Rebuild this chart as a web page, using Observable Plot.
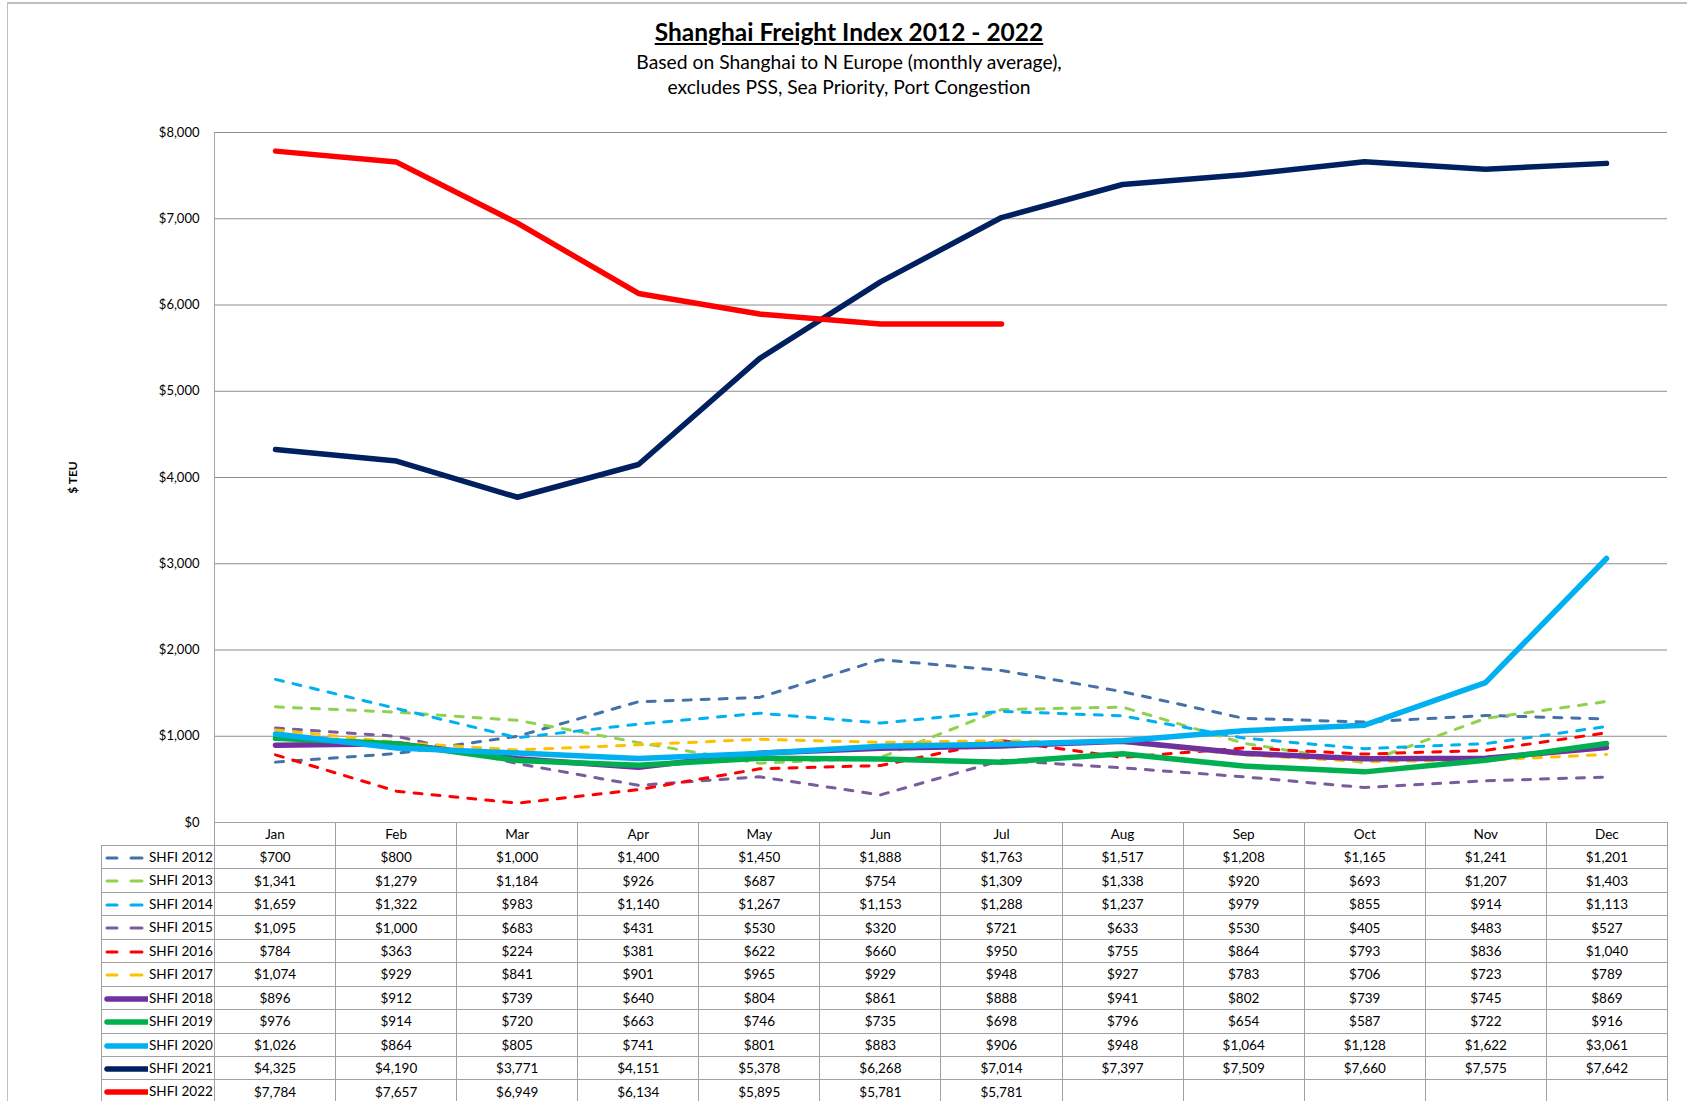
<!DOCTYPE html>
<html>
<head>
<meta charset="utf-8">
<script src="https://cdn.jsdelivr.net/npm/d3@7"></script>
<script src="https://cdn.jsdelivr.net/npm/@observablehq/plot@0.6"></script>
<style>
  html, body { margin: 0; padding: 0; background: #fff; }
  #chart { position: relative; width: 1687px; height: 1101px; overflow: hidden; background: #fff; font-family: Lato, "Open Sans", sans-serif; color: #000; }
  #border-top { position: absolute; left: 7px; top: 2px; width: 1680px; height: 2px; background: #bfbfbf; }
  #border-left { position: absolute; left: 7px; top: 2px; width: 1px; height: 1100px; background: #c0c0c0; }
  #title { position: absolute; left: 0; top: 17px; width: 1698px; text-align: center; font-weight: bold; font-size: 24.5px; line-height: 30px; text-decoration: underline; }
  #subtitle { position: absolute; left: 0; top: 49px; width: 1698px; text-align: center; font-size: 19.3px; line-height: 25px; }
  #plot { position: absolute; left: 0; top: 100px; }
  #plot svg g[aria-label="y-axis label"] text { font-weight: bold; font-size: 12px; }
  #tbl { position: absolute; left: 101px; top: 822px; border-collapse: collapse; table-layout: fixed; font-size: 13.5px; }
  #tbl td, #tbl th { border: 1px solid #a0a0a0; padding: 0; text-align: center; font-weight: normal; white-space: nowrap; overflow: hidden; }
  #tbl tr.head th { height: 22px; }
  #tbl tr.head th.corner { border: none; }
  #tbl tr.data td { height: 22.45px; }
  #tbl td.leg { text-align: left; }
  #tbl td.leg svg { vertical-align: middle; margin-right: 1px; }
  #tbl td.leg span { vertical-align: middle; position: relative; top: -1px; }
</style>
</head>
<body>
<div id="chart">
  <div id="border-top"></div>
  <div id="border-left"></div>
  <div id="title"></div>
  <div id="subtitle"></div>
  <div id="plot"></div>
  <table id="tbl"></table>
</div>
<script>
// ---- Data ----
const titleText = "Shanghai Freight Index 2012 - 2022";
const subtitleLines = ["Based on Shanghai to N Europe (monthly average),", "excludes PSS, Sea Priority, Port Congestion"];
const yLabel = "$ TEU";
const months = ["Jan", "Feb", "Mar", "Apr", "May", "Jun", "Jul", "Aug", "Sep", "Oct", "Nov", "Dec"];
const seriesNames = ["SHFI 2012", "SHFI 2013", "SHFI 2014", "SHFI 2015", "SHFI 2016", "SHFI 2017", "SHFI 2018", "SHFI 2019", "SHFI 2020", "SHFI 2021", "SHFI 2022"];
const shfi2012 = [700, 800, 1000, 1400, 1450, 1888, 1763, 1517, 1208, 1165, 1241, 1201];
const shfi2013 = [1341, 1279, 1184, 926, 687, 754, 1309, 1338, 920, 693, 1207, 1403];
const shfi2014 = [1659, 1322, 983, 1140, 1267, 1153, 1288, 1237, 979, 855, 914, 1113];
const shfi2015 = [1095, 1000, 683, 431, 530, 320, 721, 633, 530, 405, 483, 527];
const shfi2016 = [784, 363, 224, 381, 622, 660, 950, 755, 864, 793, 836, 1040];
const shfi2017 = [1074, 929, 841, 901, 965, 929, 948, 927, 783, 706, 723, 789];
const shfi2018 = [896, 912, 739, 640, 804, 861, 888, 941, 802, 739, 745, 869];
const shfi2019 = [976, 914, 720, 663, 746, 735, 698, 796, 654, 587, 722, 916];
const shfi2020 = [1026, 864, 805, 741, 801, 883, 906, 948, 1064, 1128, 1622, 3061];
const shfi2021 = [4325, 4190, 3771, 4151, 5378, 6268, 7014, 7397, 7509, 7660, 7575, 7642];
const shfi2022 = [7784, 7657, 6949, 6134, 5895, 5781, 5781, null, null, null, null, null];
const seriesValues = [shfi2012, shfi2013, shfi2014, shfi2015, shfi2016, shfi2017, shfi2018, shfi2019, shfi2020, shfi2021, shfi2022];
const yTicks = [0, 1000, 2000, 3000, 4000, 5000, 6000, 7000, 8000];

// ---- Styles ----
const seriesColors = ["#4472a8", "#92d050", "#00b0f0", "#7a5c9c", "#ff0000", "#ffc000", "#7030a0", "#00b050", "#00b0f0", "#002060", "#ff0000"];
const seriesDashed = [true, true, true, true, true, true, false, false, false, false, false];

// ---- Build ----
document.getElementById("title").textContent = titleText;
document.getElementById("subtitle").innerHTML = subtitleLines.map(s => `<div>${s}</div>`).join("");

const rows = [];
seriesNames.forEach((s, i) => seriesValues[i].forEach((v, j) => {
  if (v != null) rows.push({series: s, month: months[j], value: v});
}));

const fmt = d3.format(",");
const money = d => "$" + fmt(d);

const lineMarks = seriesNames.map((s, i) => Plot.line(rows.filter(d => d.series === s), {
  x: "month",
  y: "value",
  stroke: seriesColors[i],
  strokeWidth: seriesDashed[i] ? 3 : 5.5,
  strokeDasharray: seriesDashed[i] ? "8,10" : null,
  strokeLinecap: "round",
  strokeLinejoin: "round"
}));

const plot = Plot.plot({
  width: 1687,
  height: 730,
  marginTop: 32,
  marginBottom: 8,
  marginLeft: 214,
  marginRight: 20,
  style: {fontFamily: "Lato, 'Open Sans', sans-serif", fontSize: "13px", color: "#000", background: "transparent", overflow: "visible"},
  x: {type: "point", domain: months, padding: 0.5, axis: null},
  y: {domain: [0, 8000]},
  marks: [
    Plot.ruleY(yTicks, {stroke: "#8c8c8c", strokeWidth: 1}),
    Plot.frame({anchor: "left", stroke: "#a6a6a6"}),
    Plot.axisY({ticks: yTicks, tickSize: 0, tickPadding: 15, tickFormat: money, label: yLabel, labelAnchor: "center", labelArrow: "none", labelOffset: 146}),
    ...lineMarks
  ]
});
document.getElementById("plot").appendChild(plot);

// ---- Data table ----
const tbl = document.getElementById("tbl");
const colW = (1667 - 214) / 12;
let html = `<colgroup><col style="width:113px">${months.map(() => `<col style="width:${colW}px">`).join("")}</colgroup>`;
html += `<tr class="head"><th class="corner"></th>${months.map(m => `<th>${m}</th>`).join("")}</tr>`;
seriesNames.forEach((s, i) => {
  const c = seriesColors[i];
  const sw = seriesDashed[i]
    ? `<svg width="46" height="10"><line x1="5" y1="5" x2="15" y2="5" stroke="${c}" stroke-width="3" stroke-linecap="round"/><line x1="29" y1="5" x2="40" y2="5" stroke="${c}" stroke-width="3" stroke-linecap="round"/></svg>`
    : `<svg width="46" height="10"><line x1="5" y1="5" x2="45" y2="5" stroke="${c}" stroke-width="5.5" stroke-linecap="round"/></svg>`;
  html += `<tr class="data"><td class="leg">${sw}<span>${s}</span></td>${seriesValues[i].map(v => `<td>${v == null ? "" : money(v)}</td>`).join("")}</tr>`;
});
tbl.innerHTML = html;
</script>
</body>
</html>
